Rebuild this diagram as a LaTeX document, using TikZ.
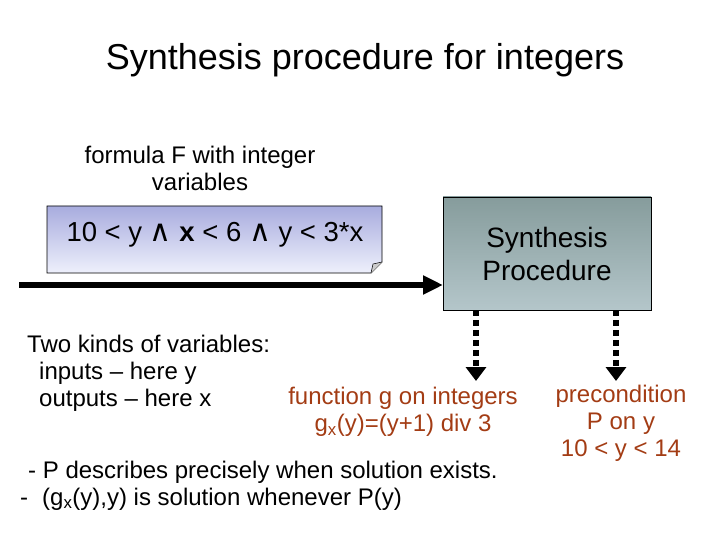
\documentclass[tikz,border=0pt]{standalone}
\usepackage{fontspec}
\setmainfont{Liberation Sans}
\newfontfamily\symfont{DejaVu Sans}
\usetikzlibrary{arrows.meta,shadows}
\definecolor{brn}{HTML}{A33C14}
\newcommand{\wedgesym}{{\symfont\fontsize{30}{34}\selectfont ∧}}
\begin{document}
\begin{tikzpicture}[x=1pt,y=-1pt,
  lbl/.style={inner sep=0pt,align=center,font=\fontsize{24}{27}\selectfont},
  lblL/.style={inner sep=0pt,align=left,anchor=west,font=\fontsize{24}{27}\selectfont}]
\useasboundingbox (0,0) rectangle (720,540);
\node[inner sep=0pt,font=\fontsize{36}{40}\selectfont] (title) at (365,60) {Synthesis procedure for integers};
\node[lbl,align=center] (flab) at (200,168) {formula F with integer\\variables};
% formula box with folded corner
\shade[top color={rgb,255:red,168;green,172;blue,222}, bottom color={rgb,255:red,238;green,240;blue,252}]
  (47,206) -- (382,206) -- (382,262) -- (371,273) -- (47,273) -- cycle;
\draw[line width=0.8pt] (47,206) -- (382,206) -- (382,262) -- (371,273) -- (47,273) -- cycle;
\fill[gray!40] (382,262) -- (371,273) -- (373,264) -- cycle;
\draw[line width=0.5pt] (382,262) -- (373,264) -- (371,273);
\node[inner sep=0pt,font=\fontsize{27.5}{32}\selectfont] (formula) at (215,235) {10 < y \wedgesym{} \textbf{x} < 6 \wedgesym{} y < 3*x};
% synthesis box
\shade[top color={rgb,255:red,134;green,156;blue,156}, bottom color={rgb,255:red,180;green,198;blue,202}] (443,197) rectangle (651,310);
\draw[line width=0.8pt] (443,197) rectangle (651,310);
\node[inner sep=0pt,align=center,font=\fontsize{28}{33}\selectfont] (synth) at (547,254) {Synthesis\\Procedure};
\coordinate (sw) at (443,285);
\coordinate (start) at (19,285);
\draw[line width=6pt,-{Triangle[length=20pt,width=18pt]}] (start) -- (sw);
% dotted arrows
\coordinate (d1a) at (476,310);
\coordinate (d1b) at (476,381);
\coordinate (d2a) at (616,310);
\coordinate (d2b) at (616,381);
\draw[line width=6pt,dash pattern=on 6pt off 4pt,-{Triangle[length=14pt,width=20pt]}] (d1a) -- (d1b);
\draw[line width=6pt,dash pattern=on 6pt off 4pt,-{Triangle[length=14pt,width=20pt]}] (d2a) -- (d2b);
\node[lblL,align=left] (kinds) at (27,373) {Two kinds of variables:\\\hspace*{12pt}inputs – here y\\\hspace*{12pt}outputs – here x};
\node[lbl,text=brn] (func) at (403,412) {function g on integers\\g\textsubscript{x}(y)=(y+1) div 3};
\node[lbl,text=brn] (pre) at (621,423) {precondition\\P on y\\10 < y < 14};
\node[lblL] (n1) at (28,472) {- P describes precisely when solution exists.};
\node[lblL] (n2) at (20,499) {-\hspace*{14pt}(g\textsubscript{x}(y),y) is solution whenever P(y)};
\end{tikzpicture}
\end{document}
